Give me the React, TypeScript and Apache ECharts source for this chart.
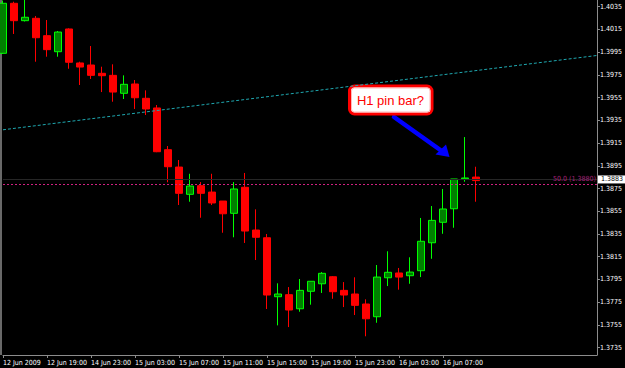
import React, { useEffect, useRef } from "react";
import * as echarts from "echarts";

// ---- data ----
const tickLabels = [
  "12 Jun 2009", "12 Jun 19:00", "14 Jun 23:00", "15 Jun 03:00", "15 Jun 07:00",
  "15 Jun 11:00", "15 Jun 15:00", "15 Jun 19:00", "15 Jun 23:00", "16 Jun 03:00", "16 Jun 07:00",
];
const yTicks = [
  1.3735, 1.3755, 1.3775, 1.3795, 1.3815, 1.3835, 1.3855, 1.3875,
  1.3895, 1.3915, 1.3935, 1.3955, 1.3975, 1.3995, 1.4015, 1.4035,
];
const opens = [
  1.3994, 1.4038, 1.40227, 1.40248, 1.40095, 1.39954, 1.40154, 1.39855, 1.39837, 1.39764,
  1.39746, 1.39588, 1.3967, 1.39544, 1.39459, 1.39092, 1.38939, 1.38699, 1.38775, 1.38719,
  1.3864, 1.38532, 1.38761, 1.38385, 1.38317, 1.37798, 1.37816, 1.37692, 1.37846, 1.37912,
  1.37974, 1.37854, 1.37822, 1.37734, 1.37622, 1.37965, 1.38007, 1.37983, 1.38027, 1.38273,
  1.38453, 1.38572, 1.38836, 1.38851,
];
const closes = [
  1.4038, 1.40227, 1.40257, 1.40077, 1.39972, 1.40127, 1.39861, 1.39819, 1.39746, 1.39743,
  1.39599, 1.39667, 1.39549, 1.3945, 1.39074, 1.38942, 1.38708, 1.38772, 1.38708, 1.38623,
  1.38528, 1.38746, 1.38376, 1.38321, 1.37813, 1.37822, 1.37681, 1.37854, 1.37934, 1.38004,
  1.37842, 1.37813, 1.37722, 1.37604, 1.37971, 1.38013, 1.37971, 1.38015, 1.38286, 1.3847,
  1.3857, 1.38834, 1.38843, 1.3882,
];
const lows = [
  1.39934, 1.4011, 1.4022, 1.39866, 1.3991, 1.3991, 1.39804, 1.39661, 1.39714, 1.39599,
  1.39514, 1.39538, 1.3945, 1.39397, 1.3907, 1.38805, 1.38605, 1.38634, 1.38493, 1.38605,
  1.38361, 1.38321, 1.38271, 1.38121, 1.3769, 1.37546, 1.37531, 1.37666, 1.37728, 1.37831,
  1.3778, 1.37707, 1.37637, 1.3745, 1.37569, 1.37892, 1.3786, 1.37912, 1.37971, 1.38132,
  1.38352, 1.38405, 1.3881, 1.38634,
];
const highs = [
  1.40405, 1.40394, 1.4047, 1.40268, 1.40233, 1.40136, 1.4016, 1.39866, 1.40004, 1.39822,
  1.39843, 1.39746, 1.39705, 1.39614, 1.39485, 1.39124, 1.39001, 1.3888, 1.38807, 1.3888,
  1.3864, 1.38807, 1.38887, 1.38567, 1.3835, 1.37916, 1.37883, 1.37954, 1.37934, 1.38015,
  1.3798, 1.37927, 1.37969, 1.37775, 1.38077, 1.38198, 1.38051, 1.38145, 1.38491, 1.38596,
  1.38746, 1.38834, 1.39203, 1.38942,
];
const bidPrice = 1.3883;
const fibLevel = 1.3879;
const fibText = "50.0 (1.3880)";
const trendStart = 1.39267; // at first bar
const trendEnd = 1.39921; // at right edge
const calloutText = "H1 pin bar?";
const slotCount = 55; // bars + empty space on the right
const yMin = 1.372853;
const yMax = 1.40409;

const AXIS_FONT = "'Liberation Sans Narrow', 'Arial Narrow', 'DejaVu Sans Condensed', sans-serif";

export default function App() {
  const ref = useRef<HTMLDivElement>(null);
  useEffect(() => {
    if (!ref.current) return;
    const chart = echarts.init(ref.current, undefined, { renderer: "svg" });
    const categories = Array.from({ length: slotCount }, (_, i) => String(i));
    const candles = opens.map((o, i) => [o, closes[i], lows[i], highs[i]]);
    const showTick = (i: number) => i % 4 === 0 && i / 4 < tickLabels.length;
    const last = slotCount - 1;
    chart.setOption({
      animation: false,
      backgroundColor: "#000",
      grid: { left: 2, right: 28, top: 0, bottom: 13, show: false },
      xAxis: {
        type: "category",
        data: categories,
        boundaryGap: false,
        axisLine: { show: true, lineStyle: { color: "#8c8c8c", width: 1 } },
        axisTick: { show: true, length: 3, interval: (i: number) => showTick(i), lineStyle: { color: "#8c8c8c" } },
        axisLabel: {
          show: true,
          interval: (i: number) => showTick(i),
          formatter: (_v: string, i: number) => (showTick(i) ? tickLabels[i / 4] : ""),
          color: "#fff",
          fontSize: 7,
          fontFamily: AXIS_FONT,
          align: "left",
          margin: 4,
        },
        splitLine: { show: false },
      },
      yAxis: {
        type: "value",
        position: "right",
        min: yMin,
        max: yMax,
        axisLine: { show: true, lineStyle: { color: "#8c8c8c", width: 1 } },
        axisTick: { show: true, length: 3, customValues: yTicks, lineStyle: { color: "#8c8c8c" } },
        axisLabel: {
          show: true,
          customValues: yTicks,
          formatter: (v: number) => v.toFixed(4),
          color: "#fff",
          fontSize: 7,
          fontFamily: AXIS_FONT,
          margin: 3,
        },
        splitLine: { show: false },
      },
      series: [
        {
          type: "candlestick",
          data: candles,
          barWidth: 7,
          clip: true,
          itemStyle: {
            color: "#008000",
            color0: "#ff0000",
            borderColor: "#00ff00",
            borderColor0: "#ff0000",
            borderWidth: 1,
          },
          markLine: {
            silent: true,
            symbol: "none",
            animation: false,
            data: [
              [
                {
                  coord: [0, bidPrice],
                  lineStyle: { color: "#262626", type: "solid", width: 1 },
                  label: {
                    show: true,
                    position: "end",
                    formatter: bidPrice.toFixed(4),
                    backgroundColor: "#fff",
                    color: "#000",
                    fontSize: 7,
                    fontFamily: AXIS_FONT,
                    padding: [1, 3, 0, 3],
                    distance: 1,
                  },
                },
                { coord: [last, bidPrice] },
              ],
              [
                {
                  coord: [0, fibLevel],
                  lineStyle: { color: "#d0207f", type: [2, 2], width: 1 },
                  label: {
                    show: true,
                    position: "insideEndTop",
                    formatter: fibText,
                    color: "#a8207a",
                    fontSize: 7,
                    fontFamily: AXIS_FONT,
                    distance: 1,
                  },
                },
                { coord: [last, fibLevel] },
              ],
              [
                { coord: [0, trendStart], lineStyle: { color: "#1fa8b0", type: [3, 2], width: 1 }, label: { show: false } },
                { coord: [last, trendEnd] },
              ],
            ],
          },
        },
      ],
      graphic: [
        { type: "line", shape: { x1: 1, y1: 0, x2: 1, y2: 355 }, style: { stroke: "#8c8c8c", lineWidth: 1.5 } },
        {
          type: "line",
          shape: { x1: 394, y1: 117, x2: 441, y2: 150.5 },
          style: { stroke: "#0000ff", lineWidth: 4.5, lineCap: "round" },
        },
        {
          type: "polygon",
          shape: { points: [[449.5, 157], [435.5, 154.5], [446, 144.5]] },
          style: { fill: "#0000ff" },
        },
        {
          type: "rect",
          shape: { x: 349.5, y: 86, width: 82.5, height: 28, r: 5 },
          style: { fill: "#fff", stroke: "#ff0000", lineWidth: 3 },
        },
        {
          type: "rect",
          shape: { x: 351.5, y: 88, width: 78.5, height: 24, r: 3 },
          style: { fill: "none", stroke: "#ffb8b8", lineWidth: 1 },
        },
        {
          type: "text",
          x: 390.5,
          y: 100,
          style: {
            text: calloutText,
            fill: "#ff0000",
            fontSize: 13,
            fontFamily: "'Liberation Sans Narrow', 'Arial Narrow', 'Liberation Sans', sans-serif",
            align: "center",
            verticalAlign: "middle",
          },
        },
      ],
    });
    return () => chart.dispose();
  }, []);
  return (
    <div style={{ position: "fixed", left: 0, top: 0, width: 625, height: 368, background: "#000" }}>
      <div ref={ref} style={{ width: 625, height: 368 }} />
    </div>
  );
}
